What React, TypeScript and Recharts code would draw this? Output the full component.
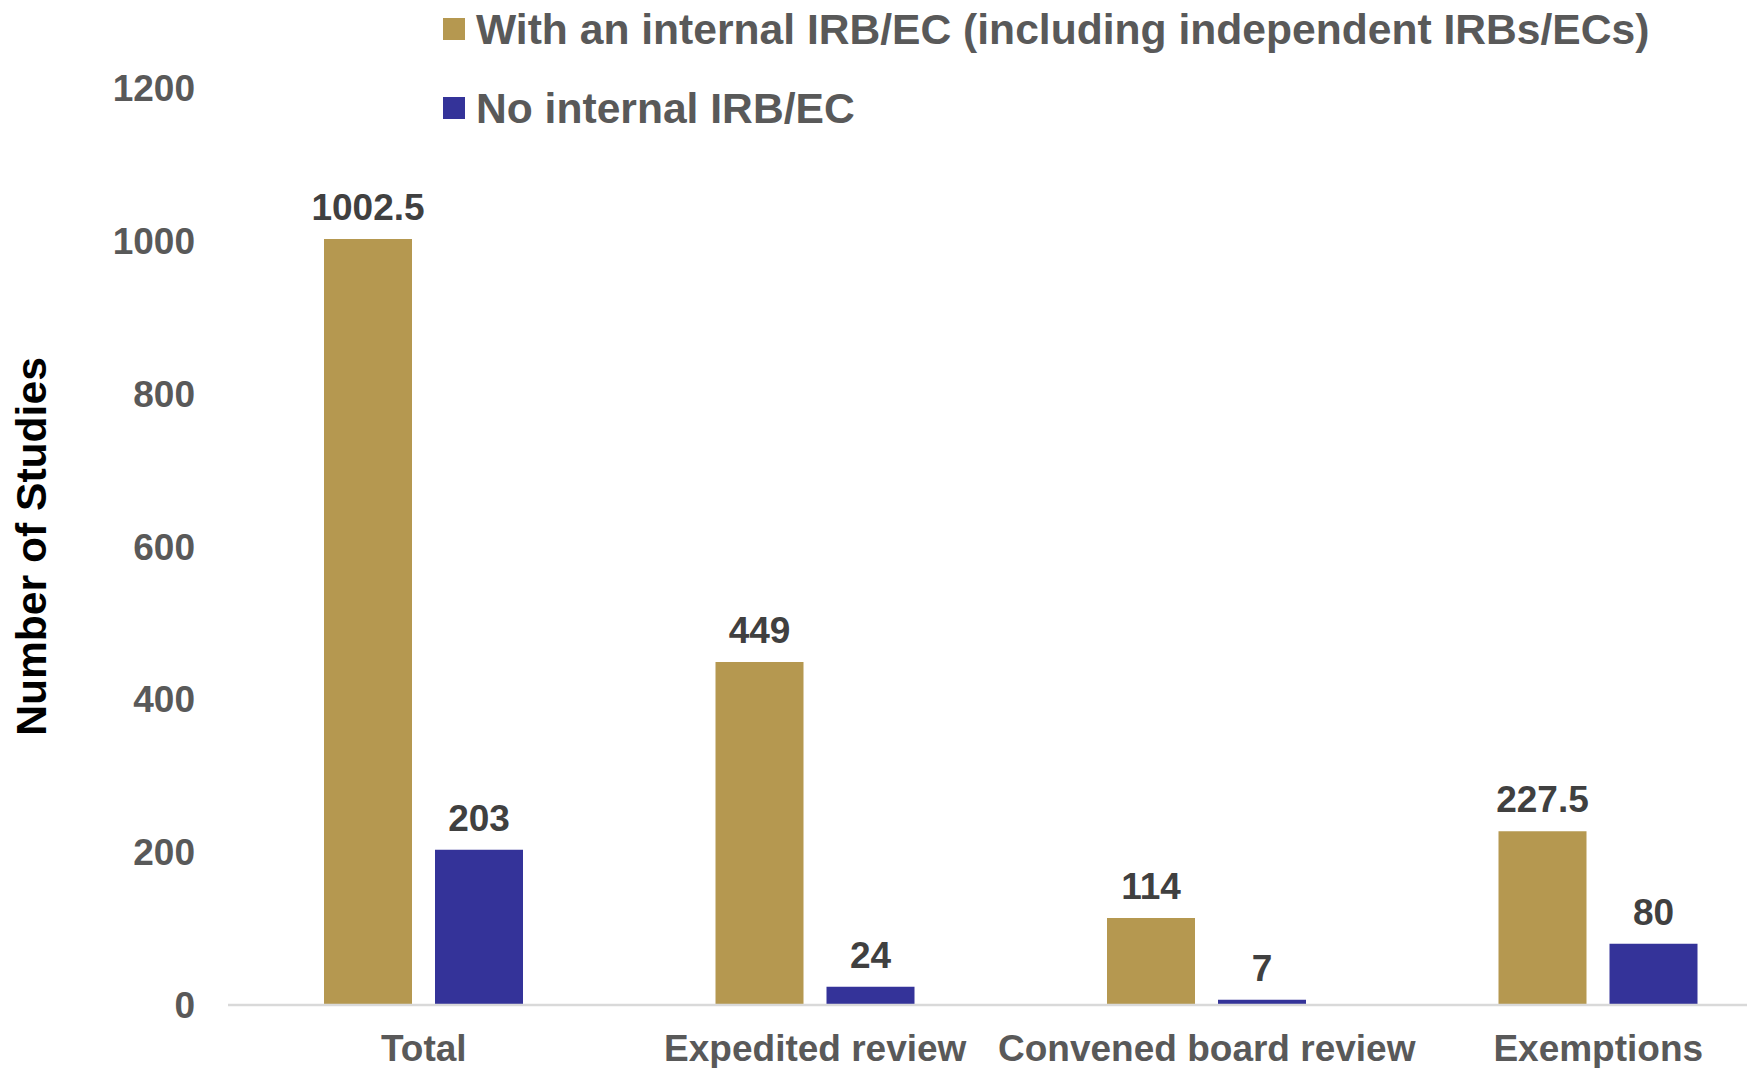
import React from 'react';
import { BarChart, Bar, XAxis, YAxis, Legend, LabelList } from 'recharts';

const categories = ['Total', 'Expedited review', 'Convened board review', 'Exemptions'];
const withInternal = [1002.5, 449, 114, 227.5];
const noInternal = [203, 24, 7, 80];
const yTicks = [0, 200, 400, 600, 800, 1000, 1200];

const SERIES_A = 'With an internal IRB/EC (including independent IRBs/ECs)';
const SERIES_B = 'No internal IRB/EC';
const seriesOrder = [SERIES_A, SERIES_B];

const GOLD = '#B59850';
const BLUE = '#343399';
const FONT = '"Liberation Sans", Arial, Helvetica, sans-serif';

const data = categories.map((name, i) => ({ name, internal: withInternal[i], none: noInternal[i] }));

// legend drawn as two stacked rows, in series order
const renderLegend = (props: any) => {
	const items = [...(props.payload || [])].sort(
		(a: any, b: any) => seriesOrder.indexOf(a.value) - seriesOrder.indexOf(b.value)
	);
	return (
		<div style={{ position: 'relative', width: 1300, height: 140, fontFamily: FONT }}>
			{items.map((p: any, i: number) => (
				<div
					key={p.value}
					style={{ position: 'absolute', left: 0, top: 4 + i * 79, height: 50, display: 'flex', alignItems: 'center', whiteSpace: 'nowrap' }}
				>
					<span style={{ display: 'inline-block', width: 22, height: 22, background: p.color, marginRight: 11 }} />
					<span style={{ fontSize: 42.6, fontWeight: 700, color: '#595959' }}>{p.value}</span>
				</div>
			))}
		</div>
	);
};

const YTitle = (props: any) => {
	const { viewBox } = props;
	const cx = viewBox.x + 31;
	const cy = viewBox.y + viewBox.height / 2;
	return (
		<text
			x={cx}
			y={cy}
			transform={`rotate(-90, ${cx}, ${cy})`}
			textAnchor="middle"
			dominantBaseline="central"
			style={{ fontFamily: FONT, fontSize: 42.6, fontWeight: 700, fill: '#000' }}
		>
			Number of Studies
		</text>
	);
};

const labelStyle = { fontFamily: FONT, fontSize: 37, fontWeight: 700, fill: '#404040' };

export default function App() {
	return (
		<div style={{ position: 'fixed', left: 0, top: 0, width: 1747, height: 1068, overflow: 'hidden', background: '#fff' }}>
			<BarChart
				width={1794}
				height={1068}
				data={data}
				margin={{ top: 88, right: 0, bottom: 0, left: 0 }}
				barSize={88}
				barGap={23}
				style={{ fontFamily: FONT }}
			>
				<XAxis
					dataKey="name"
					height={63}
					axisLine={{ stroke: '#D9D9D9', strokeWidth: 2.5 }}
					tickLine={false}
					tickSize={0}
					tickMargin={30}
					interval={0}
					tick={{ fontSize: 37, fontWeight: 700, fill: '#595959', fontFamily: FONT }}
				/>
				<YAxis
					width={228}
					domain={[0, 1200]}
					ticks={yTicks}
					axisLine={false}
					tickLine={false}
					tickSize={0}
					tickMargin={33}
					tick={{ fontSize: 37, fontWeight: 700, fill: '#595959', fontFamily: FONT }}
					label={<YTitle />}
				/>
				<Legend
					layout="horizontal"
					verticalAlign="middle"
					align="center"
					content={renderLegend}
					wrapperStyle={{ position: 'absolute', left: 443, top: 0, width: 1300, height: 140 }}
				/>
				<Bar dataKey="internal" name={SERIES_A} fill={GOLD} isAnimationActive={false}>
					<LabelList dataKey="internal" position="top" offset={19} style={labelStyle} />
				</Bar>
				<Bar dataKey="none" name={SERIES_B} fill={BLUE} isAnimationActive={false}>
					<LabelList dataKey="none" position="top" offset={19} style={labelStyle} />
				</Bar>
			</BarChart>
		</div>
	);
}
